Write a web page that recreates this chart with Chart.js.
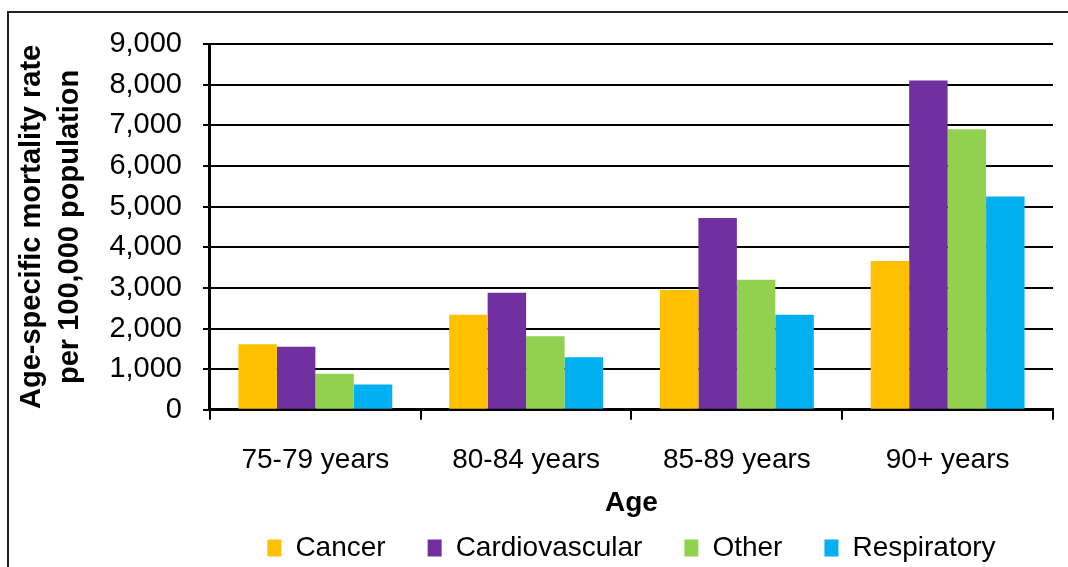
<!DOCTYPE html>
<html>
<head>
<meta charset="utf-8">
<script src="https://cdn.jsdelivr.net/npm/chart.js@4"></script>
<style>
  html, body { margin: 0; padding: 0; background: #fff; overflow: hidden; }
  #frame { position: absolute; left: 7px; top: 11px; width: 1100px; height: 600px; border: 2px solid #222; }
  #mortality { position: absolute; left: 0; top: 0; }
</style>
</head>
<body>
<div id="frame"></div>
<canvas id="mortality" width="1068" height="567"></canvas>
<script>
let ages = ['75-79 years', '80-84 years', '85-89 years', '90+ years']
let cancer = [1615, 2340, 2950, 3660]
let cardiovascular = [1550, 2880, 4720, 8100]
let other = [890, 1810, 3200, 6900]
let respiratory = [620, 1290, 2340, 5250]
let yTicks = [0, 1000, 2000, 3000, 4000, 5000, 6000, 7000, 8000, 9000]

let font = 'Liberation Sans, Arial, sans-serif'

let mortalityChart = new Chart(document.getElementById('mortality').getContext('2d'), {
  type: 'bar',
  data: {
    labels: ages,
    datasets: [
      { label: 'Cancer', data: cancer, backgroundColor: '#FFC000' },
      { label: 'Cardiovascular', data: cardiovascular, backgroundColor: '#7030A0' },
      { label: 'Other', data: other, backgroundColor: '#92D050' },
      { label: 'Respiratory', data: respiratory, backgroundColor: '#00B0F0' }
    ]
  },
  options: {
    responsive: false,
    animation: false,
    devicePixelRatio: 1,
    layout: { padding: { top: 44, right: 15, bottom: -5, left: 0 } },
    datasets: { bar: { barPercentage: 1, categoryPercentage: 0.73 } },
    scales: {
      x: {
        grid: {
          drawOnChartArea: true,
          color: c => c.index === ages.length ? '#000' : 'rgba(0,0,0,0)',
          lineWidth: 2,
          tickColor: '#000',
          tickWidth: 2,
          tickLength: 10
        },
        border: { display: true, color: '#000', width: 3 },
        ticks: { color: '#000', padding: 24, font: { family: font, size: 28 } },
        title: {
          display: true,
          text: 'Age',
          color: '#000',
          font: { family: font, size: 28, weight: 'bold' },
          padding: { top: -15, bottom: -28 }
        }
      },
      y: {
        min: 0,
        max: 9000,
        afterBuildTicks: axis => { axis.ticks = yTicks.map(v => ({ value: v })) },
        grid: { color: '#000', lineWidth: 2, tickLength: 7, tickWidth: 2 },
        border: { display: true, color: '#000', width: 3 },
        ticks: {
          color: '#000',
          padding: 21,
          font: { family: font, size: 29 },
          callback: v => v.toLocaleString('en-US')
        },
        title: {
          display: true,
          text: ['Age-specific mortality rate', 'per 100,000 population'],
          color: '#000',
          font: { family: font, size: 29, weight: 'bold', lineHeight: 1.3 },
          padding: { top: 13, bottom: 0 }
        }
      }
    },
    plugins: {
      legend: {
        position: 'bottom',
        fullSize: false,
        labels: {
          color: '#000',
          boxWidth: 14,
          boxHeight: 17,
          padding: 42,
          font: { family: font, size: 28 }
        }
      },
      tooltip: { enabled: false }
    }
  }
})
</script>
</body>
</html>
